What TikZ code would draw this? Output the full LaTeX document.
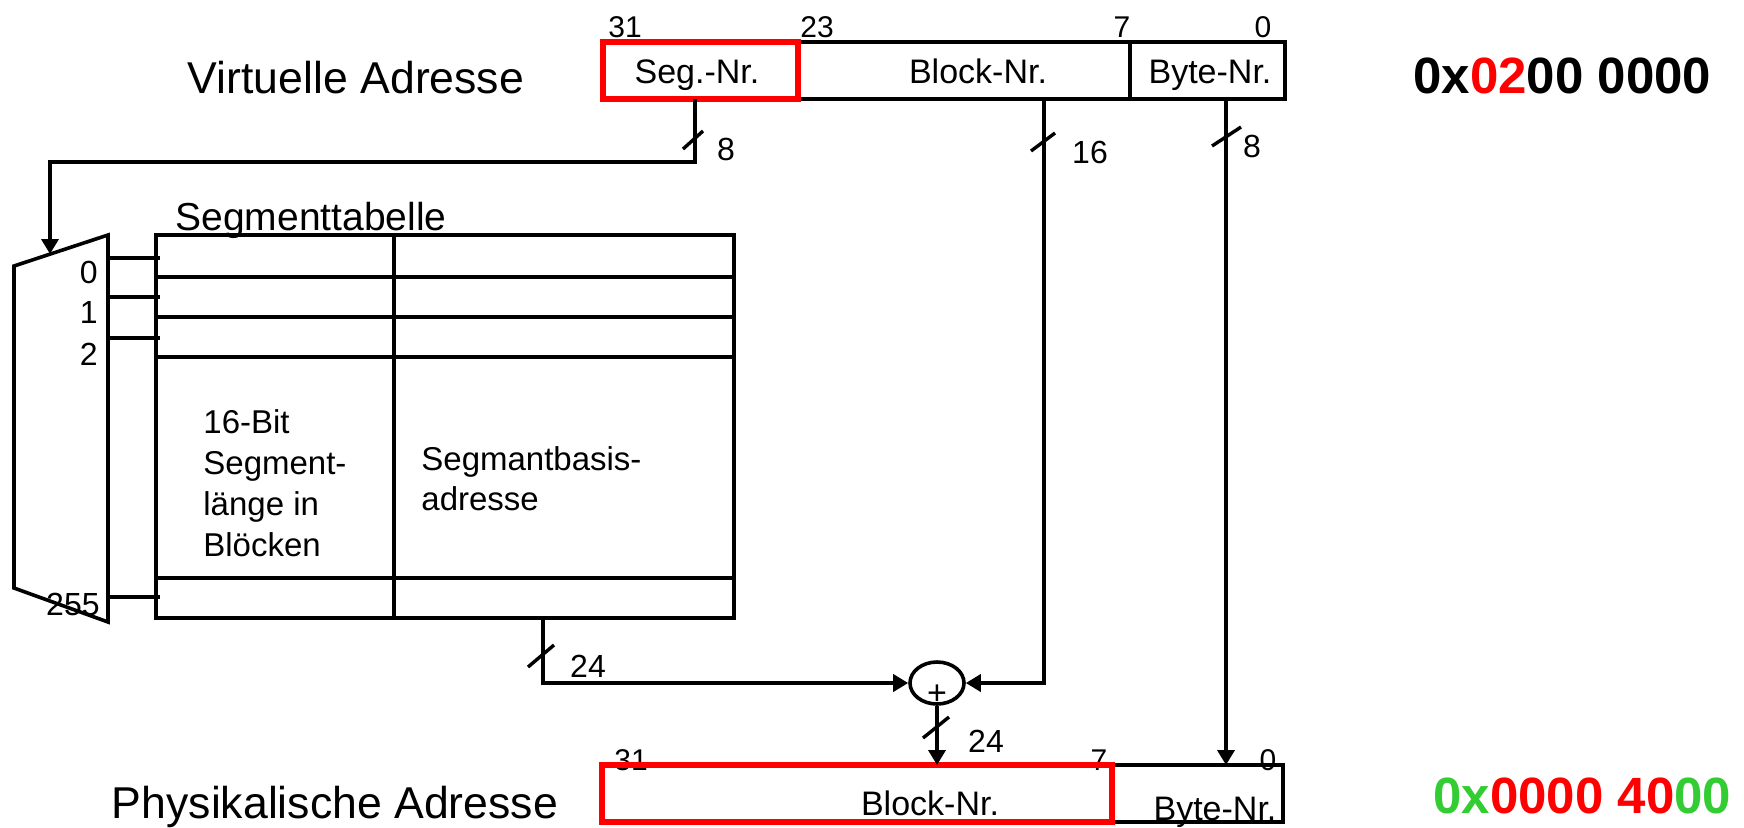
\documentclass[tikz,border=0pt]{standalone}
\usepackage{fontspec}
\setmainfont{Liberation Sans}
\usetikzlibrary{arrows.meta,shapes.geometric}

\definecolor{segred}{RGB}{255,0,0}
\definecolor{hexgreen}{RGB}{51,204,51}
\newcommand{\fsz}[1]{\fontsize{#1}{#1}\selectfont}

\tikzset{
  reg/.style={line width=1.8pt},
  redbox/.style={draw=segred,line width=2.8pt},
  bus/.style={line width=1.8pt},
  busarrow/.style={bus,-{Triangle[length=7.5pt,width=8.5pt]}},
  slash/.style={line width=1.7pt},
  lbl/.style={inner sep=0pt,anchor=base,font=\fsz{16}},
  fieldlbl/.style={inner sep=0pt,anchor=base,font=\fsz{17}},
  bitlbl/.style={inner sep=0pt,anchor=base,font=\fsz{15}},
  title/.style={inner sep=0pt,anchor=base,font=\fsz{22.3}},
  hexlbl/.style={inner sep=0pt,anchor=base west,font=\bfseries\fsz{25.5}},
}

\begin{document}
\begin{tikzpicture}[x=0.5pt,y=0.5pt,yscale=-1]
\useasboundingbox (0,0) rectangle (1744,827);

% Text Node
\node[title] (virt) at (356,93) {Virtuelle Adresse};
% Text Node
\node[title] (phys) at (335,818) {Physikalische Adresse};
% Text Node
\node[title,font=\fsz{19.5}] (segtab) at (311,230) {Segmenttabelle};

%Bit numbers
\node[bitlbl] (vb31) at (625,37) {31};
\node[bitlbl] (vb23) at (817,37) {23};
\node[bitlbl] (vb7) at (1122,37) {7};
\node[bitlbl] (vb0) at (1263,37) {0};
\node[bitlbl] (pb31) at (631,770) {31};
\node[bitlbl] (pb7) at (1099,770) {7};
\node[bitlbl] (pb0) at (1268,770) {0};

%Shape: virtual address register
\draw[reg] (603,42) rectangle (1285,99);
\draw[reg] (1130,42) -- (1130,99);
\draw[redbox] (603,42) rectangle (798,99);
\node[fieldlbl] (vseg) at (697,83) {Seg.-Nr.};
\node[fieldlbl] (vblk) at (978,83) {Block-Nr.};
\node[fieldlbl] (vbyte) at (1210,83) {Byte-Nr.};

%Shape: physical address register
\draw[reg] (602,765) rectangle (1283,822);
\draw[redbox] (602,765) rectangle (1112,822);
\node[fieldlbl] (pblk) at (930,815) {Block-Nr.};
\node[fieldlbl] (pbyte) at (1215,820) {Byte-Nr.};

%Shape: multiplexer
\draw[reg,line join=miter] (14,266) -- (108,235) -- (108,622) -- (14,588) -- cycle;
\foreach \y in {258,297,338,597}
  \draw[reg] (108,\y) -- (160,\y);
\node[lbl,anchor=base east] (mux0) at (98,283) {0};
\node[lbl,anchor=base east] (mux1) at (98,323) {1};
\node[lbl,anchor=base east] (mux2) at (98,365) {2};
\node[lbl,anchor=base east] (mux255) at (100,615) {255};

%Shape: segment table
\draw[reg] (156,235) rectangle (734,618);
\draw[reg] (394,235) -- (394,618);
\foreach \y in {277,317,357,578}
  \draw[reg] (156,\y) -- (734,\y);
\node[inner sep=0pt,anchor=north west,align=left,font=\fontsize{16.5}{20.5}\selectfont] (seglen) at (203,409)
  {16-Bit\\Segment-\\länge in\\Blöcken};
\node[inner sep=0pt,anchor=north west,align=left,font=\fontsize{16.5}{20}\selectfont] (segbase) at (421,446)
  {Segmantbasis-\\adresse};

%Shape: adder
\node[draw,ellipse,line width=1.8pt,minimum width=27pt,minimum height=21pt,inner sep=0pt] (adder) at (937,683) {};
\node[inner sep=0pt,font=\fsz{17}] (plus) at (937,695) {+};

%Connectors
\coordinate (segout) at (695,99);
\coordinate (blkout) at (1044,99);
\coordinate (byteout) at (1226,99);
\coordinate (bend) at (50,162);
\coordinate (muxin) at (50,254);
\coordinate (tblout) at (543,618);
\coordinate (pblkin) at (937,765);
\coordinate (pbytein) at (1226,765);

\draw[busarrow] (segout) |- (bend) -- (muxin);
\draw[busarrow] (tblout) |- (adder.west);
\draw[busarrow] (blkout) |- (adder.east);
\draw[busarrow] (byteout) -- (pbytein);
\draw[busarrow] (adder.south) -- (pblkin);

%Bus widths
\draw[slash] (683,149) -- (703,131);
\draw[slash] (1031,151) -- (1055,133);
\draw[slash] (1212,146) -- (1241,127);
\draw[slash] (528,667) -- (554,645);
\draw[slash] (923,738) -- (949,717);
\node[lbl] (w8a) at (726,160) {8};
\node[lbl] (w16) at (1090,163) {16};
\node[lbl] (w8b) at (1252,157) {8};
\node[lbl] (w24a) at (588,677) {24};
\node[lbl] (w24b) at (986,752) {24};

% Text Node
\node[hexlbl] (vhex) at (1413,93) {0x\textcolor{segred}{02}00 0000};
% Text Node
\node[hexlbl] (phex) at (1433,813) {\textcolor{hexgreen}{0x}\textcolor{segred}{0000 40}\textcolor{hexgreen}{00}};

\end{tikzpicture}
\end{document}
